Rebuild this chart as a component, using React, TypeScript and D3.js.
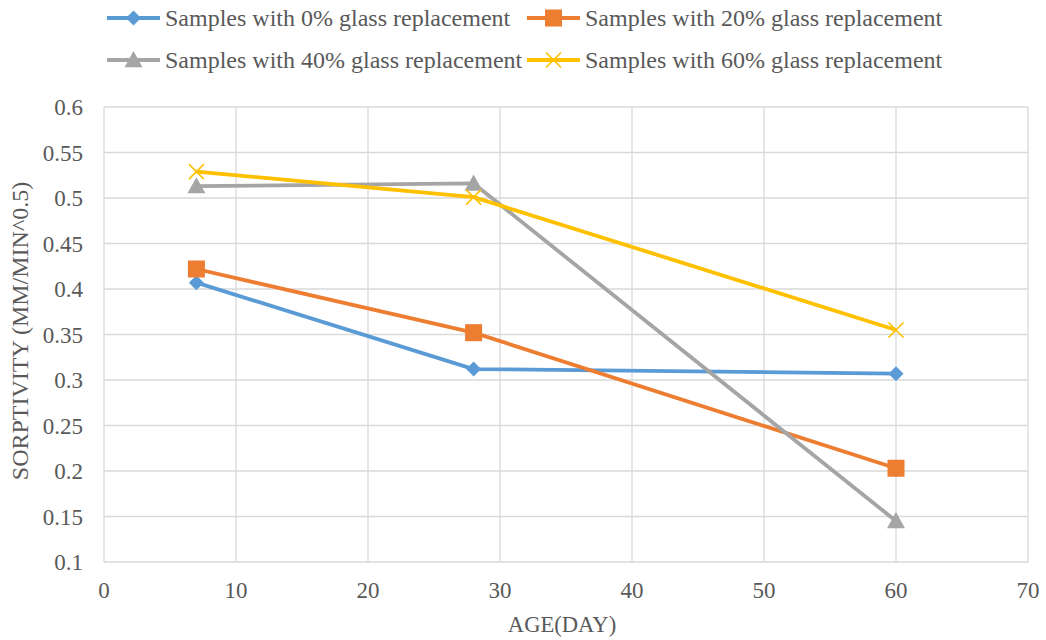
import React from "react";
import * as d3 from "d3";

const days = [7, 28, 60];
const s0 = [0.407, 0.312, 0.307];
const s20 = [0.422, 0.352, 0.203];
const s40 = [0.513, 0.516, 0.145];
const s60 = [0.529, 0.501, 0.355];
const seriesNames = [
  "Samples with 0% glass replacement",
  "Samples with 20% glass replacement",
  "Samples with 40% glass replacement",
  "Samples with 60% glass replacement",
];
const xTicks = [0, 10, 20, 30, 40, 50, 60, 70];
const yTicks = [0.1, 0.15, 0.2, 0.25, 0.3, 0.35, 0.4, 0.45, 0.5, 0.55, 0.6];
const colors = ["#5B9BD5", "#ED7D31", "#A5A5A5", "#FFC000"];
const markers = ["diamond", "square", "triangle", "x"];

const W = 1046, H = 640;
const left = 104, right = 1028, top = 107, bottom = 562;
const font = "Liberation Serif, Times New Roman, Tinos, DejaVu Serif, serif";
const tickStyle = { fontFamily: font, fontSize: "23px" };
const legStyle = { fontFamily: font, fontSize: "24px" };
const xTitleStyle = { fontFamily: font, fontSize: "22.6px" };
const yTitleStyle = { fontFamily: font, fontSize: "24px" };

function Marker({ type, x, y, color }: { type: string; x: number; y: number; color: string }) {
  if (type === "diamond") {
    const r = 7.5;
    return <path d={`M${x},${y - r}L${x + r},${y}L${x},${y + r}L${x - r},${y}Z`} fill={color} />;
  }
  if (type === "square") {
    const r = 8.5;
    return <rect x={x - r} y={y - r} width={2 * r} height={2 * r} fill={color} />;
  }
  if (type === "triangle") {
    const r = 9;
    return <path d={`M${x},${y - r}L${x + r},${y + r * 0.8}L${x - r},${y + r * 0.8}Z`} fill={color} />;
  }
  const r = 7.5;
  return (
    <path d={`M${x - r},${y - r}L${x + r},${y + r}M${x - r},${y + r}L${x + r},${y - r}`} stroke={color} strokeWidth={1.6} fill="none" />
  );
}

export default function App() {
  const x = d3.scaleLinear().domain([0, 70]).range([left, right]);
  const y = d3.scaleLinear().domain([0.1, 0.6]).range([bottom, top]);
  const allSeries = [s0, s20, s40, s60];
  const line = d3.line<[number, number]>().x((d) => x(d[0])).y((d) => y(d[1]));
  const legendPos = [
    [107, 18],
    [527, 18],
    [107, 60],
    [527, 60],
  ];
  return (
    <svg width={W} height={H} style={{ display: "block", position: "absolute", left: 0, top: 0, background: "#fff" }}>
      <rect width={W} height={H} fill="#fff" />
      {yTicks.map((t) => (
        <line key={"gy" + t} x1={left} x2={right} y1={y(t)} y2={y(t)} stroke="#D9D9D9" strokeWidth={1.3} />
      ))}
      {xTicks.map((t) => (
        <line key={"gx" + t} x1={x(t)} x2={x(t)} y1={top} y2={bottom} stroke="#D9D9D9" strokeWidth={1.3} />
      ))}
      {yTicks.map((t) => (
        <text key={"ty" + t} x={83} y={y(t)} dy="0.35em" textAnchor="end" style={tickStyle} fill="#595959">
          {String(t)}
        </text>
      ))}
      {xTicks.map((t) => (
        <text key={"tx" + t} x={x(t)} y={598} textAnchor="middle" style={tickStyle} fill="#595959">
          {String(t)}
        </text>
      ))}
      <text x={562} y={632} textAnchor="middle" style={xTitleStyle} fill="#595959">
        AGE(DAY)
      </text>
      <text
        transform={`translate(28,331) rotate(-90)`}
        textAnchor="middle"
        style={yTitleStyle}
        fill="#595959"
      >
        SORPTIVITY (MM/MIN^0.5)
      </text>
      {allSeries.map((s, i) => (
        <path
          key={"l" + i}
          d={line(days.map((d, j) => [d, s[j]] as [number, number])) || ""}
          fill="none"
          stroke={colors[i]}
          strokeWidth={3.8}
          strokeLinejoin="round"
        />
      ))}
      {allSeries.map((s, i) =>
        days.map((d, j) => <Marker key={"m" + i + j} type={markers[i]} x={x(d)} y={y(s[j])} color={colors[i]} />)
      )}
      {seriesNames.map((n, i) => {
        const [lx, ly] = legendPos[i];
        return (
          <g key={"lg" + i}>
            <line x1={lx} x2={lx + 53} y1={ly} y2={ly} stroke={colors[i]} strokeWidth={3.8} />
            <Marker type={markers[i]} x={lx + 26.5} y={ly} color={colors[i]} />
            <text x={lx + 58} y={ly} dy="0.35em" style={legStyle} fill="#595959">
              {n}
            </text>
          </g>
        );
      })}
    </svg>
  );
}
